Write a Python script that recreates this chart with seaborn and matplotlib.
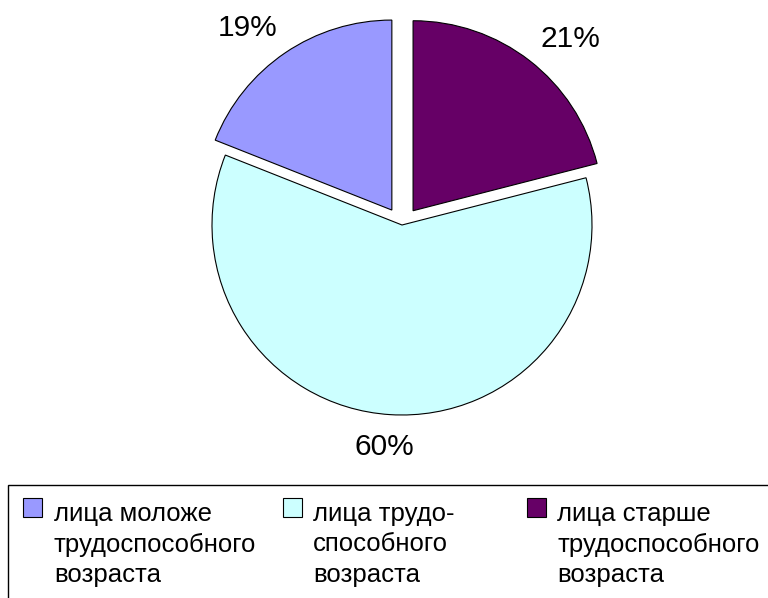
# ==== IMPORT LIBRARIES ====
import matplotlib
matplotlib.use("Agg")
import matplotlib.pyplot as plt
from matplotlib.patches import Rectangle
import seaborn as sns

# ==== DATA ====
categories = [
    "лица моложе\nтрудоспособного\nвозраста",
    "лица трудо-\nспособного\nвозраста",
    "лица старше\nтрудоспособного\nвозраста",
]
shares = [19, 60, 21]
colors = ["#9999FF", "#CCFFFF", "#660066"]
explode = [0.095, 0.0, 0.095]

# ==== STYLE ====
sns.set_theme(style="white")
plt.rcParams["font.family"] = ["Liberation Sans", "DejaVu Sans"]
plt.rcParams["text.color"] = "black"

W, H = 768, 598
fig = plt.figure(figsize=(W / 100, H / 100), dpi=100)
fig.patch.set_facecolor("white")

# ==== PIE ====
cx, cy, r = 402, 225, 190
ax = fig.add_axes([(cx - 1.25 * r) / W, 1 - (cy + 1.25 * r) / H, 2.5 * r / W, 2.5 * r / H])
wedges, texts, autotexts = ax.pie(
    shares, colors=colors, explode=explode, startangle=90, counterclock=True,
    autopct="%.0f%%", pctdistance=1.21,
    wedgeprops=dict(edgecolor="black", linewidth=0.8),
    textprops=dict(fontsize=21.5, color="black"),
)
ax.set_xlim(-1.25, 1.25)
ax.set_ylim(-1.25, 1.25)
ax.set_aspect("equal")
ax.axis("off")

# label placement (as in the original, Excel-style)
label_pos = [(-0.811, 0.995), (-0.095, -1.2105), (0.884, 0.937)]
for t, p in zip(autotexts, label_pos):
    t.set_position(p)
    t.set_va("baseline")
    t.set_ha("center")

# ==== LEGEND ====
def px(x, y):
    return x / W, 1 - y / H

fig.patches.append(Rectangle(px(8, 620), 1.2, (620 - 485) / H, transform=fig.transFigure,
                             facecolor="none", edgecolor="black", linewidth=1))
handle_x = [23, 283, 527]
text_x = [54, 313, 557]
for hx, tx, lab, c in zip(handle_x, text_x, categories, colors):
    fig.patches.append(Rectangle(px(hx, 517), 19 / W, 19 / H, transform=fig.transFigure,
                                 facecolor=c, edgecolor="black", linewidth=0.8))
    fig.text(*px(tx, 502), lab, ha="left", va="top", fontsize=18.5, linespacing=1.34)

plt.savefig("out.png", dpi=100, facecolor="white")
